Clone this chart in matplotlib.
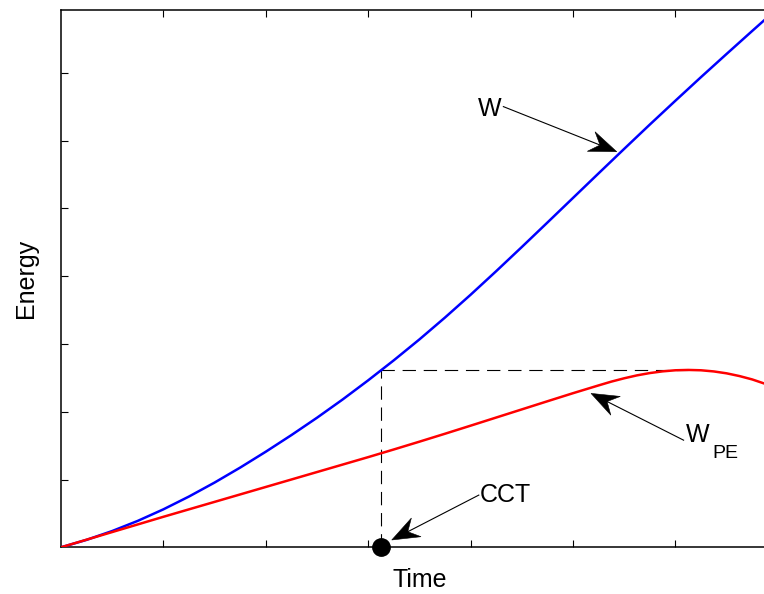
import numpy as np
import matplotlib
matplotlib.use("Agg")
import matplotlib.pyplot as plt
from matplotlib.patches import Polygon

plt.rcParams['font.family'] = ['Liberation Sans', 'DejaVu Sans']

# Total energy W (arbitrary units)
time_w = [0.0, 0.25, 0.5, 0.75, 1.0, 1.25, 1.5, 1.75, 2.0, 2.25, 2.5, 2.75,
          3.0, 3.25, 3.5, 3.75, 4.0, 4.25, 4.5, 4.75, 5.0, 5.25, 5.5, 5.75,
          6.0, 6.25, 6.5, 6.75, 7.0]
w_total = [0.0, 0.11, 0.24, 0.39, 0.56, 0.749, 0.955, 1.176, 1.41, 1.655,
           1.911, 2.18, 2.463, 2.758, 3.066, 3.389, 3.725, 4.073, 4.429,
           4.79, 5.153, 5.516, 5.877, 6.235, 6.587, 6.935, 7.277, 7.616,
           7.952]

# Potential energy W_PE
time_pe = [0.0, 0.25, 0.5, 0.75, 1.0, 1.25, 1.5, 1.75, 2.0, 2.25, 2.5, 2.75,
           3.0, 3.25, 3.5, 3.75, 4.0, 4.25, 4.5, 4.75, 5.0, 5.25, 5.375,
           5.5, 5.625, 5.75, 5.875, 6.0, 6.125, 6.25, 6.375, 6.5, 6.625,
           6.75, 6.875, 7.0]
w_pe = [0.0, 0.1125, 0.225, 0.3375, 0.45, 0.56, 0.67, 0.78, 0.89, 1.0, 1.11,
        1.22, 1.33, 1.443, 1.558, 1.675, 1.794, 1.914, 2.034, 2.154, 2.273,
        2.388, 2.444, 2.493, 2.536, 2.57, 2.595, 2.611, 2.616, 2.611,
        2.594, 2.566, 2.526, 2.476, 2.412, 2.335]

cct_time = 3.125       # critical clearing time
cct_energy = 2.615     # W at CCT = peak of W_PE
pe_peak_time = 6.125

x_ticks = [1, 2, 3, 4, 5, 6]
y_ticks = [1, 2, 3, 4, 5, 6, 7]

fig = plt.figure(figsize=(7.64, 5.94), dpi=100)
ax = fig.add_axes([61 / 764, 46.7 / 594, 716.8 / 764, 537.3 / 594])
ax.set_xlim(0, 7)
ax.set_ylim(0, 7.925)

ax.plot(time_w, w_total, color='#0000ff', lw=1.8, zorder=3)
ax.plot(time_pe, w_pe, color='#ff0000', lw=1.8, zorder=3)

dash = (0, (12, 7))
ax.plot([cct_time, cct_time], [0, cct_energy], color='k', lw=0.8,
        linestyle=dash, zorder=2)
ax.plot([cct_time, pe_peak_time], [cct_energy, cct_energy], color='k',
        lw=0.8, linestyle=dash, zorder=2)
ax.plot(cct_time, 0, 'o', ms=12.5, color='k', clip_on=False, zorder=6)

ax.set_xticks(x_ticks)
ax.set_yticks(y_ticks)
ax.set_xticklabels([])
ax.set_yticklabels([])
ax.tick_params(direction='in', length=5, width=0.8, top=True, right=True)
for s in ax.spines.values():
    s.set_linewidth(1.1)

ax.set_xlabel('Time', fontsize=18, va='baseline')
ax.xaxis.set_label_coords(0.5, -0.0733)
ax.set_ylabel('Energy', fontsize=18, va='center', ha='center')
ax.yaxis.set_label_coords(-0.0495, 0.5)


def arrow(tail, tip, head_len=27.5, half_w=10.5, notch=18):
    """Line with a notched, filled arrowhead (sizes in pixels)."""
    tr = ax.transData
    p_tail = tr.transform(tail)
    p_tip = tr.transform(tip)
    d = p_tip - p_tail
    u = d / np.hypot(*d)
    n = np.array([-u[1], u[0]])
    back = p_tip - u * head_len
    nb = p_tip - u * notch
    pts = np.array([p_tip, back + n * half_w, nb, back - n * half_w])
    ax.add_patch(Polygon(tr.inverted().transform(pts), closed=True,
                         fc='k', ec='k', lw=0.4, clip_on=False, zorder=7))
    end = tr.inverted().transform(nb)
    ax.plot([tail[0], end[0]], [tail[1], end[1]], color='k', lw=0.8,
            clip_on=False, zorder=7)


arrow((4.32, 6.50), (5.427, 5.835))
ax.text(4.30, 6.36, 'W', fontsize=18, ha='right', va='baseline')

arrow((4.08, 0.77), (3.23, 0.108))
ax.text(4.09, 0.67, 'CCT', fontsize=18, ha='left', va='baseline')

arrow((6.08, 1.58), (5.176, 2.27))
ax.text(6.10, 1.553, 'W', fontsize=18, ha='left', va='baseline')
ax.text(6.357, 1.317, 'PE', fontsize=14, ha='left', va='baseline')

fig.savefig('out.png', dpi=100)
